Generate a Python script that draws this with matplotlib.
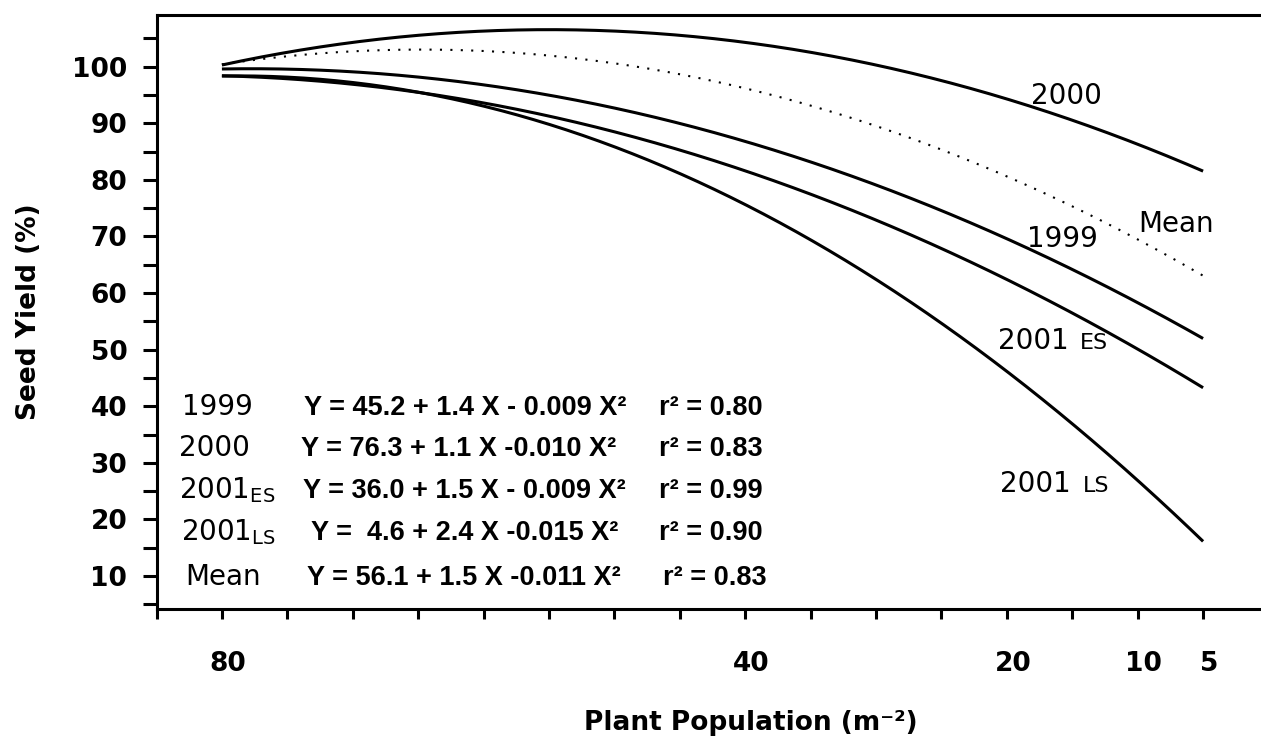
import numpy as np
import matplotlib
matplotlib.use("Agg")
import matplotlib.pyplot as plt
from matplotlib.transforms import ScaledTranslation

# Quadratic response of seed yield (%) to plant population X (plants m^-2):
# Y = a + b*X + c*X^2
seasons = ["1999", "2000", "2001 ES", "2001 LS", "Mean"]
intercepts = [45.2, 76.3, 36.0, 4.6, 56.1]
linear_coefs = [1.4, 1.1, 1.5, 2.38, 1.45]
quad_coefs = [-0.009, -0.010, -0.009, -0.0151, -0.0112]
pop_low, pop_high = 5, 80

# Printed regression summary
row_labels = ["1999", "2000", r"2001$_{\mathrm{ES}}$", r"2001$_{\mathrm{LS}}$", "Mean"]
equations = [
    "Y = 45.2 + 1.4 X - 0.009 X\u00b2",
    "Y = 76.3 + 1.1 X -0.010 X\u00b2",
    "Y = 36.0 + 1.5 X - 0.009 X\u00b2",
    "Y =  4.6 + 2.4 X -0.015 X\u00b2",
    "Y = 56.1 + 1.5 X -0.011 X\u00b2",
]
r_squared = ["0.80", "0.83", "0.99", "0.90", "0.83"]

x_ticks = np.arange(5, 90, 5)
x_tick_labels = [80, 40, 20, 10, 5]
y_ticks = np.arange(5, 110, 5)
y_tick_labels = np.arange(10, 110, 10)

plt.rcParams["mathtext.fontset"] = "custom"
plt.rcParams["mathtext.rm"] = "DejaVu Sans"
plt.rcParams["mathtext.it"] = "DejaVu Sans"

W, H = 1261, 740
fig = plt.figure(figsize=(W / 100, H / 100), dpi=100)
left_px, right_px, top_px, bottom_px = 156.5, 1268.5, 15, 609
ax = fig.add_axes([left_px / W, (H - bottom_px) / H,
                   (right_px - left_px) / W, (bottom_px - top_px) / H])
ax.set_xlim(85, 0)
ax.set_ylim(4.17, 109.14)

lw_axis = 2.2
for side in ("left", "bottom", "top"):
    ax.spines[side].set_linewidth(lw_axis)
ax.spines["right"].set_visible(False)

x = np.linspace(pop_high, pop_low, 300)
for name, a, b, c in zip(seasons, intercepts, linear_coefs, quad_coefs):
    y = a + b * x + c * x ** 2
    if name == "Mean":
        ax.plot(x, y, color="black", lw=1.5, linestyle=(0, (1, 4.0)),
                dash_capstyle="butt")
    else:
        ax.plot(x, y, color="black", lw=2.2, solid_capstyle="butt")

# Axis ticks
ax.set_xticks(x_ticks)
ax.set_xticklabels([str(v) if v in x_tick_labels else "" for v in x_ticks])
ax.set_yticks(y_ticks)
ax.set_yticklabels([str(v) if v in y_tick_labels else "" for v in y_ticks])
ax.tick_params(axis="x", direction="out", length=7.5, width=lw_axis,
               pad=23, labelsize=19)
ax.tick_params(axis="y", direction="out", length=10, width=lw_axis,
               pad=11, labelsize=19)
for lab in ax.get_xticklabels() + ax.get_yticklabels():
    lab.set_fontfamily("DejaVu Sans")
    lab.set_fontweight("bold")
shift = ScaledTranslation(6 / 100, 0, fig.dpi_scale_trans)
for lab in ax.get_xticklabels():
    lab.set_transform(lab.get_transform() + shift)

# Axis titles
fig.text(751 / W, 1 - 723 / H, "Plant Population (m\u207b\u00b2)", ha="center",
         va="center", fontsize=19, fontweight="bold", family="DejaVu Sans")
fig.text(29 / W, 1 - 312 / H, "Seed Yield (%)", ha="center", va="center",
         rotation=90, fontsize=19, fontweight="bold", family="DejaVu Sans")

# Curve labels
lab_kw = dict(fontsize=20, family="DejaVu Sans", color="black")
ax.text(15.45, 94.8, "2000", ha="center", va="center", **lab_kw)
ax.text(15.76, 69.55, "1999", ha="center", va="center", **lab_kw)
ax.text(7.06, 72.2, "Mean", ha="center", va="center", **lab_kw)
ax.text(20.7, 50.2, "2001", ha="left", va="baseline", **lab_kw)
ax.text(14.4, 50.2, "ES", ha="left", va="baseline", fontsize=16,
        family="DejaVu Sans")
ax.text(20.56, 24.8, "2001", ha="left", va="baseline", **lab_kw)
ax.text(14.2, 24.8, "LS", ha="left", va="baseline", fontsize=16,
        family="DejaVu Sans")

# Regression summary block
row_base = [38.54, 31.12, 23.70, 16.28, 8.33]
label_x = [83.05, 83.28, 83.28, 83.13, 82.82]
eq_x = [73.74, 73.97, 73.82, 73.21, 73.51]
r2_x = [46.58, 46.58, 46.58, 46.58, 46.28]
for i in range(len(row_labels)):
    ax.text(label_x[i], row_base[i], row_labels[i], ha="left", va="baseline",
            fontsize=20, family="DejaVu Sans")
    ax.text(eq_x[i], row_base[i], equations[i], ha="left", va="baseline",
            fontsize=19.5, fontweight="bold", family="Liberation Sans")
    ax.text(r2_x[i], row_base[i], "r\u00b2 = " + r_squared[i], ha="left",
            va="baseline", fontsize=19.5, fontweight="bold",
            family="Liberation Sans")

fig.savefig("out.png", dpi=100)
